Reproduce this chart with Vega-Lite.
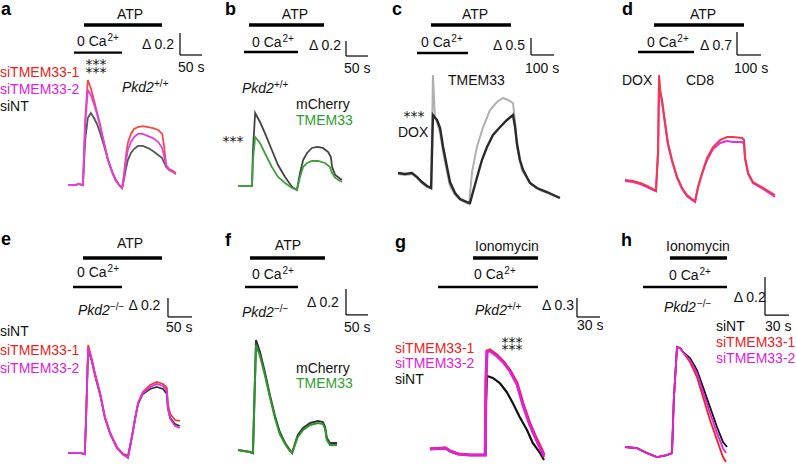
{
"$schema": "https://vega.github.io/schema/vega-lite/v6.json",
"padding": 0,
"spacing": 0,
"bounds": "flush",
"align": "each",
"columns": 4,
"config": {"view": {"stroke": null}, "text": {"font": "Liberation Sans", "fontSize": 14}},
"datasets": {
"traces": [
{"p":"a","s":"siNT","t":0,"v":0},{"p":"a","s":"siNT","t":18,"v":0},{"p":"a","s":"siNT","t":23,"v":0.01},{"p":"a","s":"siNT","t":34,"v":0},{"p":"a","s":"siNT","t":39,"v":0.409},{"p":"a","s":"siNT","t":45,"v":0.609},{"p":"a","s":"siNT","t":52,"v":0.655},{"p":"a","s":"siNT","t":59,"v":0.609},{"p":"a","s":"siNT","t":66,"v":0.555},{"p":"a","s":"siNT","t":73,"v":0.473},{"p":"a","s":"siNT","t":82,"v":0.355},{"p":"a","s":"siNT","t":91,"v":0.227},{"p":"a","s":"siNT","t":100,"v":0.127},{"p":"a","s":"siNT","t":109,"v":0.045},{"p":"a","s":"siNT","t":118,"v":-0.009},{"p":"a","s":"siNT","t":123,"v":-0.027},{"p":"a","s":"siNT","t":127,"v":0.045},{"p":"a","s":"siNT","t":132,"v":0.155},{"p":"a","s":"siNT","t":136,"v":0.227},{"p":"a","s":"siNT","t":143,"v":0.291},{"p":"a","s":"siNT","t":150,"v":0.327},{"p":"a","s":"siNT","t":159,"v":0.355},{"p":"a","s":"siNT","t":170,"v":0.355},{"p":"a","s":"siNT","t":182,"v":0.336},{"p":"a","s":"siNT","t":193,"v":0.309},{"p":"a","s":"siNT","t":205,"v":0.273},{"p":"a","s":"siNT","t":214,"v":0.245},{"p":"a","s":"siNT","t":218,"v":0.209},{"p":"a","s":"siNT","t":223,"v":0.164},{"p":"a","s":"siNT","t":230,"v":0.136},{"p":"a","s":"siNT","t":239,"v":0.118},{"p":"a","s":"siNT","t":245,"v":0.1},
{"p":"a","s":"siTMEM33-1","t":0,"v":0},{"p":"a","s":"siTMEM33-1","t":18,"v":0},{"p":"a","s":"siTMEM33-1","t":23,"v":0.01},{"p":"a","s":"siTMEM33-1","t":34,"v":0},{"p":"a","s":"siTMEM33-1","t":39,"v":0.59},{"p":"a","s":"siTMEM33-1","t":45,"v":0.955},{"p":"a","s":"siTMEM33-1","t":52,"v":0.88},{"p":"a","s":"siTMEM33-1","t":59,"v":0.77},{"p":"a","s":"siTMEM33-1","t":66,"v":0.66},{"p":"a","s":"siTMEM33-1","t":73,"v":0.545},{"p":"a","s":"siTMEM33-1","t":82,"v":0.38},{"p":"a","s":"siTMEM33-1","t":91,"v":0.227},{"p":"a","s":"siTMEM33-1","t":100,"v":0.118},{"p":"a","s":"siTMEM33-1","t":109,"v":0.036},{"p":"a","s":"siTMEM33-1","t":118,"v":-0.009},{"p":"a","s":"siTMEM33-1","t":123,"v":-0.027},{"p":"a","s":"siTMEM33-1","t":127,"v":0.091},{"p":"a","s":"siTMEM33-1","t":132,"v":0.273},{"p":"a","s":"siTMEM33-1","t":136,"v":0.382},{"p":"a","s":"siTMEM33-1","t":143,"v":0.464},{"p":"a","s":"siTMEM33-1","t":150,"v":0.509},{"p":"a","s":"siTMEM33-1","t":159,"v":0.527},{"p":"a","s":"siTMEM33-1","t":170,"v":0.536},{"p":"a","s":"siTMEM33-1","t":182,"v":0.527},{"p":"a","s":"siTMEM33-1","t":193,"v":0.518},{"p":"a","s":"siTMEM33-1","t":205,"v":0.5},{"p":"a","s":"siTMEM33-1","t":214,"v":0.464},{"p":"a","s":"siTMEM33-1","t":218,"v":0.364},{"p":"a","s":"siTMEM33-1","t":223,"v":0.182},{"p":"a","s":"siTMEM33-1","t":230,"v":0.145},{"p":"a","s":"siTMEM33-1","t":239,"v":0.127},{"p":"a","s":"siTMEM33-1","t":245,"v":0.109},
{"p":"a","s":"siTMEM33-2","t":0,"v":0},{"p":"a","s":"siTMEM33-2","t":18,"v":0},{"p":"a","s":"siTMEM33-2","t":23,"v":0.01},{"p":"a","s":"siTMEM33-2","t":34,"v":0},{"p":"a","s":"siTMEM33-2","t":39,"v":0.545},{"p":"a","s":"siTMEM33-2","t":45,"v":0.864},{"p":"a","s":"siTMEM33-2","t":52,"v":0.818},{"p":"a","s":"siTMEM33-2","t":59,"v":0.736},{"p":"a","s":"siTMEM33-2","t":66,"v":0.645},{"p":"a","s":"siTMEM33-2","t":73,"v":0.536},{"p":"a","s":"siTMEM33-2","t":82,"v":0.382},{"p":"a","s":"siTMEM33-2","t":91,"v":0.227},{"p":"a","s":"siTMEM33-2","t":100,"v":0.118},{"p":"a","s":"siTMEM33-2","t":109,"v":0.036},{"p":"a","s":"siTMEM33-2","t":118,"v":-0.009},{"p":"a","s":"siTMEM33-2","t":123,"v":-0.027},{"p":"a","s":"siTMEM33-2","t":127,"v":0.064},{"p":"a","s":"siTMEM33-2","t":132,"v":0.227},{"p":"a","s":"siTMEM33-2","t":136,"v":0.318},{"p":"a","s":"siTMEM33-2","t":143,"v":0.391},{"p":"a","s":"siTMEM33-2","t":150,"v":0.436},{"p":"a","s":"siTMEM33-2","t":159,"v":0.464},{"p":"a","s":"siTMEM33-2","t":170,"v":0.464},{"p":"a","s":"siTMEM33-2","t":182,"v":0.445},{"p":"a","s":"siTMEM33-2","t":193,"v":0.427},{"p":"a","s":"siTMEM33-2","t":205,"v":0.391},{"p":"a","s":"siTMEM33-2","t":214,"v":0.336},{"p":"a","s":"siTMEM33-2","t":218,"v":0.273},{"p":"a","s":"siTMEM33-2","t":223,"v":0.173},{"p":"a","s":"siTMEM33-2","t":230,"v":0.136},{"p":"a","s":"siTMEM33-2","t":239,"v":0.118},{"p":"a","s":"siTMEM33-2","t":245,"v":0.1},
{"p":"b","s":"mCherry","t":0,"v":0},{"p":"b","s":"mCherry","t":32,"v":0},{"p":"b","s":"mCherry","t":34,"v":0.48},{"p":"b","s":"mCherry","t":39,"v":0.973},{"p":"b","s":"mCherry","t":50,"v":0.853},{"p":"b","s":"mCherry","t":61,"v":0.707},{"p":"b","s":"mCherry","t":77,"v":0.48},{"p":"b","s":"mCherry","t":91,"v":0.28},{"p":"b","s":"mCherry","t":107,"v":0.12},{"p":"b","s":"mCherry","t":123,"v":-0.013},{"p":"b","s":"mCherry","t":134,"v":-0.053},{"p":"b","s":"mCherry","t":141,"v":0.173},{"p":"b","s":"mCherry","t":148,"v":0.347},{"p":"b","s":"mCherry","t":157,"v":0.44},{"p":"b","s":"mCherry","t":168,"v":0.507},{"p":"b","s":"mCherry","t":180,"v":0.52},{"p":"b","s":"mCherry","t":193,"v":0.507},{"p":"b","s":"mCherry","t":205,"v":0.453},{"p":"b","s":"mCherry","t":211,"v":0.387},{"p":"b","s":"mCherry","t":214,"v":0.253},{"p":"b","s":"mCherry","t":221,"v":0.147},{"p":"b","s":"mCherry","t":236,"v":0.08},
{"p":"b","s":"TMEM33","t":0,"v":0},{"p":"b","s":"TMEM33","t":32,"v":0},{"p":"b","s":"TMEM33","t":34,"v":0.347},{"p":"b","s":"TMEM33","t":39,"v":0.653},{"p":"b","s":"TMEM33","t":50,"v":0.573},{"p":"b","s":"TMEM33","t":61,"v":0.44},{"p":"b","s":"TMEM33","t":77,"v":0.253},{"p":"b","s":"TMEM33","t":91,"v":0.12},{"p":"b","s":"TMEM33","t":107,"v":0.04},{"p":"b","s":"TMEM33","t":123,"v":-0.027},{"p":"b","s":"TMEM33","t":134,"v":-0.053},{"p":"b","s":"TMEM33","t":141,"v":0.12},{"p":"b","s":"TMEM33","t":148,"v":0.253},{"p":"b","s":"TMEM33","t":157,"v":0.307},{"p":"b","s":"TMEM33","t":168,"v":0.333},{"p":"b","s":"TMEM33","t":182,"v":0.333},{"p":"b","s":"TMEM33","t":198,"v":0.307},{"p":"b","s":"TMEM33","t":209,"v":0.253},{"p":"b","s":"TMEM33","t":214,"v":0.173},{"p":"b","s":"TMEM33","t":221,"v":0.107},{"p":"b","s":"TMEM33","t":236,"v":0.053},
{"p":"c","s":"control","t":0,"v":0},{"p":"c","s":"control","t":30,"v":-0.029},{"p":"c","s":"control","t":61,"v":0},{"p":"c","s":"control","t":83,"v":-0.118},{"p":"c","s":"control","t":104,"v":-0.265},{"p":"c","s":"control","t":126,"v":-0.382},{"p":"c","s":"control","t":144,"v":-0.441},{"p":"c","s":"control","t":152,"v":1.706},{"p":"c","s":"control","t":170,"v":1.559},{"p":"c","s":"control","t":183,"v":1.324},{"p":"c","s":"control","t":196,"v":0.765},{"p":"c","s":"control","t":213,"v":0.176},{"p":"c","s":"control","t":226,"v":-0.265},{"p":"c","s":"control","t":248,"v":-0.588},{"p":"c","s":"control","t":270,"v":-0.765},{"p":"c","s":"control","t":300,"v":-0.853},{"p":"c","s":"control","t":313,"v":-0.882},{"p":"c","s":"control","t":326,"v":-0.559},{"p":"c","s":"control","t":344,"v":-0.118},{"p":"c","s":"control","t":365,"v":0.382},{"p":"c","s":"control","t":387,"v":0.765},{"p":"c","s":"control","t":413,"v":1.118},{"p":"c","s":"control","t":444,"v":1.353},{"p":"c","s":"control","t":474,"v":1.559},{"p":"c","s":"control","t":500,"v":1.706},{"p":"c","s":"control","t":509,"v":1.353},{"p":"c","s":"control","t":517,"v":0.882},{"p":"c","s":"control","t":530,"v":0.382},{"p":"c","s":"control","t":544,"v":0.088},{"p":"c","s":"control","t":574,"v":-0.294},{"p":"c","s":"control","t":604,"v":-0.441},{"p":"c","s":"control","t":648,"v":-0.559},{"p":"c","s":"control","t":704,"v":-0.735},
{"p":"c","s":"TMEM33","t":0,"v":-0.029},{"p":"c","s":"TMEM33","t":30,"v":-0.059},{"p":"c","s":"TMEM33","t":61,"v":-0.029},{"p":"c","s":"TMEM33","t":83,"v":-0.147},{"p":"c","s":"TMEM33","t":104,"v":-0.294},{"p":"c","s":"TMEM33","t":126,"v":-0.412},{"p":"c","s":"TMEM33","t":144,"v":-0.441},{"p":"c","s":"TMEM33","t":152,"v":2.882},{"p":"c","s":"TMEM33","t":161,"v":1.618},{"p":"c","s":"TMEM33","t":170,"v":1.471},{"p":"c","s":"TMEM33","t":183,"v":1.176},{"p":"c","s":"TMEM33","t":196,"v":0.618},{"p":"c","s":"TMEM33","t":213,"v":0.029},{"p":"c","s":"TMEM33","t":226,"v":-0.382},{"p":"c","s":"TMEM33","t":248,"v":-0.647},{"p":"c","s":"TMEM33","t":270,"v":-0.794},{"p":"c","s":"TMEM33","t":300,"v":-0.882},{"p":"c","s":"TMEM33","t":309,"v":-0.912},{"p":"c","s":"TMEM33","t":322,"v":0.029},{"p":"c","s":"TMEM33","t":343,"v":0.765},{"p":"c","s":"TMEM33","t":370,"v":1.353},{"p":"c","s":"TMEM33","t":400,"v":1.853},{"p":"c","s":"TMEM33","t":430,"v":2.088},{"p":"c","s":"TMEM33","t":457,"v":2.206},{"p":"c","s":"TMEM33","t":478,"v":2.147},{"p":"c","s":"TMEM33","t":500,"v":2.059},{"p":"c","s":"TMEM33","t":509,"v":1.5},{"p":"c","s":"TMEM33","t":517,"v":0.765},{"p":"c","s":"TMEM33","t":539,"v":0.088},{"p":"c","s":"TMEM33","t":574,"v":-0.294},{"p":"c","s":"TMEM33","t":617,"v":-0.5},{"p":"c","s":"TMEM33","t":661,"v":-0.618},{"p":"c","s":"TMEM33","t":704,"v":-0.735},
{"p":"d","s":"CD8 control","t":0,"v":0},{"p":"d","s":"CD8 control","t":33,"v":-0.03},{"p":"d","s":"CD8 control","t":63,"v":-0.091},{"p":"d","s":"CD8 control","t":92,"v":-0.183},{"p":"d","s":"CD8 control","t":117,"v":-0.274},{"p":"d","s":"CD8 control","t":129,"v":-0.335},{"p":"d","s":"CD8 control","t":138,"v":0.913},{"p":"d","s":"CD8 control","t":142,"v":3.196},{"p":"d","s":"CD8 control","t":146,"v":2.739},{"p":"d","s":"CD8 control","t":154,"v":2.435},{"p":"d","s":"CD8 control","t":167,"v":1.735},{"p":"d","s":"CD8 control","t":179,"v":1.126},{"p":"d","s":"CD8 control","t":196,"v":0.609},{"p":"d","s":"CD8 control","t":217,"v":0.091},{"p":"d","s":"CD8 control","t":238,"v":-0.243},{"p":"d","s":"CD8 control","t":258,"v":-0.457},{"p":"d","s":"CD8 control","t":279,"v":-0.578},{"p":"d","s":"CD8 control","t":292,"v":-0.639},{"p":"d","s":"CD8 control","t":304,"v":-0.213},{"p":"d","s":"CD8 control","t":321,"v":0.213},{"p":"d","s":"CD8 control","t":342,"v":0.67},{"p":"d","s":"CD8 control","t":367,"v":1.004},{"p":"d","s":"CD8 control","t":396,"v":1.217},{"p":"d","s":"CD8 control","t":425,"v":1.309},{"p":"d","s":"CD8 control","t":450,"v":1.309},{"p":"d","s":"CD8 control","t":488,"v":1.278},{"p":"d","s":"CD8 control","t":496,"v":1.217},{"p":"d","s":"CD8 control","t":500,"v":0.7},{"p":"d","s":"CD8 control","t":513,"v":0.213},{"p":"d","s":"CD8 control","t":533,"v":-0.061},{"p":"d","s":"CD8 control","t":575,"v":-0.243},{"p":"d","s":"CD8 control","t":625,"v":-0.457},
{"p":"d","s":"CD8 DOX","t":0,"v":-0.03},{"p":"d","s":"CD8 DOX","t":33,"v":-0.06},{"p":"d","s":"CD8 DOX","t":63,"v":-0.122},{"p":"d","s":"CD8 DOX","t":92,"v":-0.213},{"p":"d","s":"CD8 DOX","t":117,"v":-0.304},{"p":"d","s":"CD8 DOX","t":129,"v":-0.335},{"p":"d","s":"CD8 DOX","t":138,"v":0.85},{"p":"d","s":"CD8 DOX","t":142,"v":3.1},{"p":"d","s":"CD8 DOX","t":146,"v":2.7},{"p":"d","s":"CD8 DOX","t":154,"v":2.4},{"p":"d","s":"CD8 DOX","t":167,"v":1.7},{"p":"d","s":"CD8 DOX","t":179,"v":1.08},{"p":"d","s":"CD8 DOX","t":196,"v":0.57},{"p":"d","s":"CD8 DOX","t":217,"v":0.06},{"p":"d","s":"CD8 DOX","t":238,"v":-0.274},{"p":"d","s":"CD8 DOX","t":258,"v":-0.487},{"p":"d","s":"CD8 DOX","t":279,"v":-0.609},{"p":"d","s":"CD8 DOX","t":292,"v":-0.67},{"p":"d","s":"CD8 DOX","t":304,"v":-0.243},{"p":"d","s":"CD8 DOX","t":321,"v":0.183},{"p":"d","s":"CD8 DOX","t":342,"v":0.609},{"p":"d","s":"CD8 DOX","t":367,"v":0.943},{"p":"d","s":"CD8 DOX","t":396,"v":1.126},{"p":"d","s":"CD8 DOX","t":425,"v":1.187},{"p":"d","s":"CD8 DOX","t":450,"v":1.157},{"p":"d","s":"CD8 DOX","t":488,"v":1.157},{"p":"d","s":"CD8 DOX","t":496,"v":1.1},{"p":"d","s":"CD8 DOX","t":500,"v":0.64},{"p":"d","s":"CD8 DOX","t":513,"v":0.183},{"p":"d","s":"CD8 DOX","t":533,"v":-0.091},{"p":"d","s":"CD8 DOX","t":575,"v":-0.274},{"p":"d","s":"CD8 DOX","t":625,"v":-0.517},
{"p":"e","s":"siNT","t":0,"v":0},{"p":"e","s":"siNT","t":25,"v":0},{"p":"e","s":"siNT","t":35,"v":-0.011},{"p":"e","s":"siNT","t":37.5,"v":0.347},{"p":"e","s":"siNT","t":42,"v":1.095},{"p":"e","s":"siNT","t":50,"v":0.958},{"p":"e","s":"siNT","t":56,"v":0.821},{"p":"e","s":"siNT","t":67,"v":0.611},{"p":"e","s":"siNT","t":77,"v":0.368},{"p":"e","s":"siNT","t":88,"v":0.2},{"p":"e","s":"siNT","t":102,"v":0.053},{"p":"e","s":"siNT","t":115,"v":-0.011},{"p":"e","s":"siNT","t":125,"v":-0.032},{"p":"e","s":"siNT","t":133,"v":0.168},{"p":"e","s":"siNT","t":140,"v":0.368},{"p":"e","s":"siNT","t":146,"v":0.516},{"p":"e","s":"siNT","t":156,"v":0.621},{"p":"e","s":"siNT","t":171,"v":0.674},{"p":"e","s":"siNT","t":185,"v":0.695},{"p":"e","s":"siNT","t":198,"v":0.674},{"p":"e","s":"siNT","t":206,"v":0.621},{"p":"e","s":"siNT","t":208,"v":0.474},{"p":"e","s":"siNT","t":213,"v":0.368},{"p":"e","s":"siNT","t":223,"v":0.305},{"p":"e","s":"siNT","t":233,"v":0.284},
{"p":"e","s":"siTMEM33-1","t":0,"v":0},{"p":"e","s":"siTMEM33-1","t":25,"v":0},{"p":"e","s":"siTMEM33-1","t":35,"v":-0.011},{"p":"e","s":"siTMEM33-1","t":37.5,"v":0.347},{"p":"e","s":"siTMEM33-1","t":42,"v":1.137},{"p":"e","s":"siTMEM33-1","t":50,"v":0.979},{"p":"e","s":"siTMEM33-1","t":56,"v":0.842},{"p":"e","s":"siTMEM33-1","t":67,"v":0.632},{"p":"e","s":"siTMEM33-1","t":77,"v":0.379},{"p":"e","s":"siTMEM33-1","t":88,"v":0.211},{"p":"e","s":"siTMEM33-1","t":102,"v":0.063},{"p":"e","s":"siTMEM33-1","t":115,"v":-0.011},{"p":"e","s":"siTMEM33-1","t":125,"v":-0.053},{"p":"e","s":"siTMEM33-1","t":133,"v":0.158},{"p":"e","s":"siTMEM33-1","t":140,"v":0.368},{"p":"e","s":"siTMEM33-1","t":146,"v":0.526},{"p":"e","s":"siTMEM33-1","t":156,"v":0.642},{"p":"e","s":"siTMEM33-1","t":171,"v":0.716},{"p":"e","s":"siTMEM33-1","t":185,"v":0.747},{"p":"e","s":"siTMEM33-1","t":198,"v":0.726},{"p":"e","s":"siTMEM33-1","t":206,"v":0.684},{"p":"e","s":"siTMEM33-1","t":208,"v":0.516},{"p":"e","s":"siTMEM33-1","t":213,"v":0.411},{"p":"e","s":"siTMEM33-1","t":223,"v":0.347},{"p":"e","s":"siTMEM33-1","t":233,"v":0.337},
{"p":"e","s":"siTMEM33-2","t":0,"v":0},{"p":"e","s":"siTMEM33-2","t":25,"v":0},{"p":"e","s":"siTMEM33-2","t":35,"v":-0.011},{"p":"e","s":"siTMEM33-2","t":37.5,"v":0.347},{"p":"e","s":"siTMEM33-2","t":42,"v":1.105},{"p":"e","s":"siTMEM33-2","t":50,"v":0.968},{"p":"e","s":"siTMEM33-2","t":56,"v":0.832},{"p":"e","s":"siTMEM33-2","t":67,"v":0.621},{"p":"e","s":"siTMEM33-2","t":77,"v":0.368},{"p":"e","s":"siTMEM33-2","t":88,"v":0.2},{"p":"e","s":"siTMEM33-2","t":102,"v":0.053},{"p":"e","s":"siTMEM33-2","t":115,"v":-0.021},{"p":"e","s":"siTMEM33-2","t":125,"v":-0.042},{"p":"e","s":"siTMEM33-2","t":133,"v":0.168},{"p":"e","s":"siTMEM33-2","t":140,"v":0.368},{"p":"e","s":"siTMEM33-2","t":146,"v":0.526},{"p":"e","s":"siTMEM33-2","t":156,"v":0.632},{"p":"e","s":"siTMEM33-2","t":171,"v":0.695},{"p":"e","s":"siTMEM33-2","t":185,"v":0.726},{"p":"e","s":"siTMEM33-2","t":198,"v":0.705},{"p":"e","s":"siTMEM33-2","t":206,"v":0.653},{"p":"e","s":"siTMEM33-2","t":208,"v":0.474},{"p":"e","s":"siTMEM33-2","t":213,"v":0.358},{"p":"e","s":"siTMEM33-2","t":223,"v":0.284},{"p":"e","s":"siTMEM33-2","t":233,"v":0.263},
{"p":"f","s":"mCherry","t":0,"v":0.023},{"p":"f","s":"mCherry","t":27,"v":0.008},{"p":"f","s":"mCherry","t":34,"v":0},{"p":"f","s":"mCherry","t":36,"v":0.254},{"p":"f","s":"mCherry","t":41,"v":0.869},{"p":"f","s":"mCherry","t":50,"v":0.777},{"p":"f","s":"mCherry","t":61,"v":0.623},{"p":"f","s":"mCherry","t":73,"v":0.438},{"p":"f","s":"mCherry","t":84,"v":0.285},{"p":"f","s":"mCherry","t":95,"v":0.162},{"p":"f","s":"mCherry","t":107,"v":0.077},{"p":"f","s":"mCherry","t":118,"v":0.023},{"p":"f","s":"mCherry","t":123,"v":0},{"p":"f","s":"mCherry","t":130,"v":0.077},{"p":"f","s":"mCherry","t":136,"v":0.138},{"p":"f","s":"mCherry","t":148,"v":0.192},{"p":"f","s":"mCherry","t":164,"v":0.231},{"p":"f","s":"mCherry","t":182,"v":0.246},{"p":"f","s":"mCherry","t":193,"v":0.238},{"p":"f","s":"mCherry","t":198,"v":0.2},{"p":"f","s":"mCherry","t":202,"v":0.115},{"p":"f","s":"mCherry","t":209,"v":0.077},{"p":"f","s":"mCherry","t":225,"v":0.077},
{"p":"f","s":"TMEM33","t":0,"v":0.023},{"p":"f","s":"TMEM33","t":27,"v":0.008},{"p":"f","s":"TMEM33","t":34,"v":0},{"p":"f","s":"TMEM33","t":36,"v":0.238},{"p":"f","s":"TMEM33","t":41,"v":0.831},{"p":"f","s":"TMEM33","t":50,"v":0.746},{"p":"f","s":"TMEM33","t":61,"v":0.6},{"p":"f","s":"TMEM33","t":73,"v":0.423},{"p":"f","s":"TMEM33","t":84,"v":0.269},{"p":"f","s":"TMEM33","t":95,"v":0.146},{"p":"f","s":"TMEM33","t":107,"v":0.069},{"p":"f","s":"TMEM33","t":118,"v":0.015},{"p":"f","s":"TMEM33","t":123,"v":0},{"p":"f","s":"TMEM33","t":130,"v":0.069},{"p":"f","s":"TMEM33","t":136,"v":0.123},{"p":"f","s":"TMEM33","t":148,"v":0.177},{"p":"f","s":"TMEM33","t":164,"v":0.215},{"p":"f","s":"TMEM33","t":182,"v":0.231},{"p":"f","s":"TMEM33","t":193,"v":0.223},{"p":"f","s":"TMEM33","t":198,"v":0.185},{"p":"f","s":"TMEM33","t":202,"v":0.1},{"p":"f","s":"TMEM33","t":209,"v":0.062},{"p":"f","s":"TMEM33","t":225,"v":0.062},
{"p":"g","s":"siNT","t":0,"v":0.095},{"p":"g","s":"siNT","t":20,"v":0.111},{"p":"g","s":"siNT","t":26,"v":0.063},{"p":"g","s":"siNT","t":36.5,"v":0.016},{"p":"g","s":"siNT","t":52,"v":0},{"p":"g","s":"siNT","t":68,"v":0},{"p":"g","s":"siNT","t":72,"v":0},{"p":"g","s":"siNT","t":73,"v":0.868},{"p":"g","s":"siNT","t":74.3,"v":1.247},{"p":"g","s":"siNT","t":82,"v":1.216},{"p":"g","s":"siNT","t":91,"v":1.137},{"p":"g","s":"siNT","t":100,"v":0.995},{"p":"g","s":"siNT","t":108,"v":0.821},{"p":"g","s":"siNT","t":117,"v":0.6},{"p":"g","s":"siNT","t":126.5,"v":0.395},{"p":"g","s":"siNT","t":134,"v":0.189},{"p":"g","s":"siNT","t":143.5,"v":0.032},{"p":"g","s":"siNT","t":148.7,"v":-0.079},
{"p":"g","s":"siTMEM33-1","t":0,"v":0.095},{"p":"g","s":"siTMEM33-1","t":20,"v":0.111},{"p":"g","s":"siTMEM33-1","t":26,"v":0.063},{"p":"g","s":"siTMEM33-1","t":36.5,"v":0.016},{"p":"g","s":"siTMEM33-1","t":52,"v":0},{"p":"g","s":"siTMEM33-1","t":68,"v":0},{"p":"g","s":"siTMEM33-1","t":72,"v":0},{"p":"g","s":"siTMEM33-1","t":73,"v":1.184},{"p":"g","s":"siTMEM33-1","t":74.3,"v":1.642},{"p":"g","s":"siTMEM33-1","t":78,"v":1.658},{"p":"g","s":"siTMEM33-1","t":87,"v":1.579},{"p":"g","s":"siTMEM33-1","t":95,"v":1.484},{"p":"g","s":"siTMEM33-1","t":104,"v":1.342},{"p":"g","s":"siTMEM33-1","t":113.5,"v":1.137},{"p":"g","s":"siTMEM33-1","t":121,"v":0.821},{"p":"g","s":"siTMEM33-1","t":130,"v":0.505},{"p":"g","s":"siTMEM33-1","t":139.6,"v":0.237},{"p":"g","s":"siTMEM33-1","t":146,"v":0.079},{"p":"g","s":"siTMEM33-1","t":148.7,"v":0},
{"p":"g","s":"siTMEM33-2","t":0,"v":0.095},{"p":"g","s":"siTMEM33-2","t":20,"v":0.111},{"p":"g","s":"siTMEM33-2","t":26,"v":0.063},{"p":"g","s":"siTMEM33-2","t":36.5,"v":0.016},{"p":"g","s":"siTMEM33-2","t":52,"v":0},{"p":"g","s":"siTMEM33-2","t":68,"v":0},{"p":"g","s":"siTMEM33-2","t":72,"v":0},{"p":"g","s":"siTMEM33-2","t":73,"v":1.184},{"p":"g","s":"siTMEM33-2","t":74.3,"v":1.626},{"p":"g","s":"siTMEM33-2","t":78,"v":1.642},{"p":"g","s":"siTMEM33-2","t":87,"v":1.563},{"p":"g","s":"siTMEM33-2","t":95,"v":1.468},{"p":"g","s":"siTMEM33-2","t":104,"v":1.326},{"p":"g","s":"siTMEM33-2","t":113.5,"v":1.105},{"p":"g","s":"siTMEM33-2","t":121,"v":0.789},{"p":"g","s":"siTMEM33-2","t":130,"v":0.474},{"p":"g","s":"siTMEM33-2","t":139.6,"v":0.205},{"p":"g","s":"siTMEM33-2","t":146,"v":0.047},{"p":"g","s":"siTMEM33-2","t":148.7,"v":-0.032},
{"p":"h","s":"siNT","t":0,"v":0.032},{"p":"h","s":"siNT","t":15,"v":0.026},{"p":"h","s":"siNT","t":27.5,"v":0},{"p":"h","s":"siNT","t":40,"v":-0.021},{"p":"h","s":"siNT","t":52.5,"v":-0.011},{"p":"h","s":"siNT","t":58.75,"v":0},{"p":"h","s":"siNT","t":61,"v":0.279},{"p":"h","s":"siNT","t":65,"v":0.558},{"p":"h","s":"siNT","t":68.75,"v":0.553},{"p":"h","s":"siNT","t":72.5,"v":0.532},{"p":"h","s":"siNT","t":81.25,"v":0.5},{"p":"h","s":"siNT","t":90,"v":0.437},{"p":"h","s":"siNT","t":97.5,"v":0.347},{"p":"h","s":"siNT","t":106.25,"v":0.242},{"p":"h","s":"siNT","t":115,"v":0.137},{"p":"h","s":"siNT","t":122.5,"v":0.058},{"p":"h","s":"siNT","t":127.5,"v":0.032},
{"p":"h","s":"siTMEM33-1","t":0,"v":0.032},{"p":"h","s":"siTMEM33-1","t":15,"v":0.026},{"p":"h","s":"siTMEM33-1","t":27.5,"v":0},{"p":"h","s":"siTMEM33-1","t":40,"v":-0.021},{"p":"h","s":"siTMEM33-1","t":52.5,"v":-0.011},{"p":"h","s":"siTMEM33-1","t":58.75,"v":0},{"p":"h","s":"siTMEM33-1","t":61,"v":0.279},{"p":"h","s":"siTMEM33-1","t":65,"v":0.558},{"p":"h","s":"siTMEM33-1","t":68.75,"v":0.553},{"p":"h","s":"siTMEM33-1","t":72.5,"v":0.532},{"p":"h","s":"siTMEM33-1","t":81.25,"v":0.479},{"p":"h","s":"siTMEM33-1","t":90,"v":0.4},{"p":"h","s":"siTMEM33-1","t":97.5,"v":0.295},{"p":"h","s":"siTMEM33-1","t":106.25,"v":0.174},{"p":"h","s":"siTMEM33-1","t":115,"v":0.068},{"p":"h","s":"siTMEM33-1","t":122.5,"v":-0.021},{"p":"h","s":"siTMEM33-1","t":126.25,"v":-0.047},
{"p":"h","s":"siTMEM33-2","t":0,"v":0.032},{"p":"h","s":"siTMEM33-2","t":15,"v":0.026},{"p":"h","s":"siTMEM33-2","t":27.5,"v":0},{"p":"h","s":"siTMEM33-2","t":40,"v":-0.021},{"p":"h","s":"siTMEM33-2","t":52.5,"v":-0.011},{"p":"h","s":"siTMEM33-2","t":58.75,"v":0},{"p":"h","s":"siTMEM33-2","t":61,"v":0.279},{"p":"h","s":"siTMEM33-2","t":65,"v":0.558},{"p":"h","s":"siTMEM33-2","t":68.75,"v":0.553},{"p":"h","s":"siTMEM33-2","t":72.5,"v":0.532},{"p":"h","s":"siTMEM33-2","t":81.25,"v":0.489},{"p":"h","s":"siTMEM33-2","t":90,"v":0.421},{"p":"h","s":"siTMEM33-2","t":97.5,"v":0.321},{"p":"h","s":"siTMEM33-2","t":106.25,"v":0.211},{"p":"h","s":"siTMEM33-2","t":115,"v":0.105},{"p":"h","s":"siTMEM33-2","t":122.5,"v":0.026},{"p":"h","s":"siTMEM33-2","t":126.25,"v":0}
],
"bars": [
{"p":"a","k":"thick","t":36.4,"t2":213.6,"v":1.455,"v2":1.455},{"p":"a","k":"thin","t":13.6,"t2":122.7,"v":1.203,"v2":1.203},{"p":"a","k":"scale","t":254.5,"t2":254.5,"v":1.382,"v2":1.182},{"p":"a","k":"scale","t":254.5,"t2":304.5,"v":1.182,"v2":1.182},
{"p":"b","k":"thick","t":25,"t2":195.5,"v":2.147,"v2":2.147},{"p":"b","k":"thin","t":13.6,"t2":136.4,"v":1.787,"v2":1.787},{"p":"b","k":"scale","t":245.5,"t2":245.5,"v":1.933,"v2":1.733},{"p":"b","k":"scale","t":245.5,"t2":295.5,"v":1.733,"v2":1.733},
{"p":"c","k":"thick","t":143.5,"t2":491.3,"v":4.353,"v2":4.353},{"p":"c","k":"thin","t":82.6,"t2":304.3,"v":3.529,"v2":3.529},{"p":"c","k":"scale","t":578.3,"t2":578.3,"v":3.971,"v2":3.471},{"p":"c","k":"scale","t":578.3,"t2":678.3,"v":3.471,"v2":3.471},
{"p":"d","k":"thick","t":120.8,"t2":495.8,"v":4.717,"v2":4.717},{"p":"d","k":"thin","t":54.2,"t2":287.5,"v":3.896,"v2":3.896},{"p":"d","k":"scale","t":466.7,"t2":466.7,"v":4.504,"v2":3.804},{"p":"d","k":"scale","t":466.7,"t2":566.7,"v":3.804,"v2":3.804},
{"p":"e","k":"thick","t":31.2,"t2":195.8,"v":2.053,"v2":2.053},{"p":"e","k":"thin","t":10.4,"t2":112.5,"v":1.747,"v2":1.747},{"p":"e","k":"scale","t":208.3,"t2":208.3,"v":1.632,"v2":1.432},{"p":"e","k":"scale","t":208.3,"t2":258.3,"v":1.432,"v2":1.432},
{"p":"f","k":"thick","t":27.3,"t2":197.7,"v":1.5,"v2":1.5},{"p":"f","k":"thin","t":15.9,"t2":136.4,"v":1.277,"v2":1.277},{"p":"f","k":"scale","t":245.5,"t2":245.5,"v":1.262,"v2":1.062},{"p":"f","k":"scale","t":245.5,"t2":295.5,"v":1.062,"v2":1.062},
{"p":"g","k":"thick","t":56.1,"t2":140.9,"v":3.111,"v2":3.111},{"p":"g","k":"thin","t":10.4,"t2":140.9,"v":2.653,"v2":2.653},{"p":"g","k":"scale","t":191.7,"t2":191.7,"v":2.479,"v2":2.179},{"p":"g","k":"scale","t":191.7,"t2":221.7,"v":2.179,"v2":2.179},
{"p":"h","k":"thick","t":56.25,"t2":127.5,"v":1.026,"v2":1.026},{"p":"h","k":"thin","t":22.5,"t2":127.5,"v":0.874,"v2":0.874},{"p":"h","k":"scale","t":175,"t2":175,"v":0.926,"v2":0.726},{"p":"h","k":"scale","t":175,"t2":205,"v":0.726,"v2":0.726}
],
"labels": [
{"p":"a","k":"letter","s":"none","t":-152.3,"v":1.545,"txt":"a"},{"p":"a","k":"ctr","s":"none","t":140.9,"v":1.509,"txt":"ATP"},{"p":"a","k":"txt","s":"none","t":20.5,"v":1.264,"txt":"0 Ca"},{"p":"a","k":"sup","s":"none","t":89.5,"v":1.264,"txt":"2+"},{"p":"a","k":"txt","s":"none","t":168.2,"v":1.236,"txt":"Δ 0.2"},{"p":"a","k":"txt","s":"none","t":250,"v":1.027,"txt":"50 s"},{"p":"a","k":"star","s":"none","t":63.6,"v":1.055,"txt":"***"},{"p":"a","k":"star","s":"none","t":63.6,"v":0.982,"txt":"***"},{"p":"a","k":"txt","s":"siTMEM33-1","t":-154.5,"v":0.982,"txt":"siTMEM33-1"},{"p":"a","k":"txt","s":"siTMEM33-2","t":-154.5,"v":0.827,"txt":"siTMEM33-2"},{"p":"a","k":"txt","s":"siNT","t":-154.5,"v":0.673,"txt":"siNT"},{"p":"a","k":"ital","s":"none","t":122.7,"v":0.845,"txt":"Pkd2"},{"p":"a","k":"sup","s":"none","t":195.5,"v":0.845,"txt":"+/+"},
{"p":"b","k":"letter","s":"none","t":-29.5,"v":2.28,"txt":"b"},{"p":"b","k":"ctr","s":"none","t":129.5,"v":2.227,"txt":"ATP"},{"p":"b","k":"txt","s":"none","t":31.8,"v":1.853,"txt":"0 Ca"},{"p":"b","k":"sup","s":"none","t":101,"v":1.853,"txt":"2+"},{"p":"b","k":"txt","s":"none","t":161.4,"v":1.813,"txt":"Δ 0.2"},{"p":"b","k":"txt","s":"none","t":240.9,"v":1.507,"txt":"50 s"},{"p":"b","k":"ital","s":"none","t":9.1,"v":1.24,"txt":"Pkd2"},{"p":"b","k":"sup","s":"none","t":81.8,"v":1.24,"txt":"+/+"},{"p":"b","k":"txt","s":"mCherry","t":131.8,"v":1.027,"txt":"mCherry"},{"p":"b","k":"txt","s":"TMEM33","t":131.8,"v":0.813,"txt":"TMEM33"},{"p":"b","k":"star","s":"none","t":-11.4,"v":0.533,"txt":"***"},
{"p":"c","k":"letter","s":"none","t":-26.1,"v":4.647,"txt":"c"},{"p":"c","k":"ctr","s":"none","t":334.8,"v":4.529,"txt":"ATP"},{"p":"c","k":"txt","s":"none","t":100,"v":3.706,"txt":"0 Ca"},{"p":"c","k":"sup","s":"none","t":232,"v":3.706,"txt":"2+"},{"p":"c","k":"txt","s":"none","t":413,"v":3.618,"txt":"Δ 0.5"},{"p":"c","k":"txt","s":"none","t":552.2,"v":2.941,"txt":"100 s"},{"p":"c","k":"txt","s":"none","t":217.4,"v":2.588,"txt":"TMEM33"},{"p":"c","k":"star","s":"none","t":69.6,"v":1.529,"txt":"***"},{"p":"c","k":"txt","s":"none","t":0,"v":1.059,"txt":"DOX"},
{"p":"d","k":"letter","s":"none","t":-12.5,"v":5.022,"txt":"d"},{"p":"d","k":"ctr","s":"none","t":325,"v":4.9,"txt":"ATP"},{"p":"d","k":"txt","s":"none","t":91.7,"v":4.048,"txt":"0 Ca"},{"p":"d","k":"sup","s":"none","t":218,"v":4.048,"txt":"2+"},{"p":"d","k":"txt","s":"none","t":312.5,"v":3.957,"txt":"Δ 0.7"},{"p":"d","k":"txt","s":"none","t":454.2,"v":3.257,"txt":"100 s"},{"p":"d","k":"txt","s":"none","t":-12.5,"v":2.891,"txt":"DOX"},{"p":"d","k":"txt","s":"none","t":254.2,"v":2.891,"txt":"CD8"},
{"p":"e","k":"letter","s":"none","t":-139.6,"v":2.189,"txt":"e"},{"p":"e","k":"ctr","s":"none","t":129.2,"v":2.158,"txt":"ATP"},{"p":"e","k":"txt","s":"none","t":18.75,"v":1.853,"txt":"0 Ca"},{"p":"e","k":"sup","s":"none","t":82.5,"v":1.853,"txt":"2+"},{"p":"e","k":"ital","s":"none","t":20.8,"v":1.453,"txt":"Pkd2"},{"p":"e","k":"sup","s":"none","t":87.5,"v":1.453,"txt":"−/−"},{"p":"e","k":"txt","s":"none","t":126,"v":1.505,"txt":"Δ 0.2"},{"p":"e","k":"txt","s":"none","t":204.2,"v":1.274,"txt":"50 s"},{"p":"e","k":"txt","s":"siNT","t":-141.7,"v":1.232,"txt":"siNT"},{"p":"e","k":"txt","s":"siTMEM33-1","t":-141.7,"v":1.032,"txt":"siTMEM33-1"},{"p":"e","k":"txt","s":"siTMEM33-2","t":-141.7,"v":0.842,"txt":"siTMEM33-2"},
{"p":"f","k":"letter","s":"none","t":-29.5,"v":1.592,"txt":"f"},{"p":"f","k":"ctr","s":"none","t":113.6,"v":1.562,"txt":"ATP"},{"p":"f","k":"txt","s":"none","t":31.8,"v":1.338,"txt":"0 Ca"},{"p":"f","k":"sup","s":"none","t":101,"v":1.338,"txt":"2+"},{"p":"f","k":"ital","s":"none","t":9.1,"v":1.046,"txt":"Pkd2"},{"p":"f","k":"sup","s":"none","t":81.8,"v":1.046,"txt":"−/−"},{"p":"f","k":"txt","s":"none","t":156.8,"v":1.123,"txt":"Δ 0.2"},{"p":"f","k":"txt","s":"none","t":240.9,"v":0.931,"txt":"50 s"},{"p":"f","k":"txt","s":"mCherry","t":131.8,"v":0.615,"txt":"mCherry"},{"p":"f","k":"txt","s":"TMEM33","t":131.8,"v":0.5,"txt":"TMEM33"},
{"p":"g","k":"letter","s":"none","t":-45.7,"v":3.268,"txt":"g"},{"p":"g","k":"ctr","s":"none","t":100.4,"v":3.221,"txt":"Ionomycin"},{"p":"g","k":"txt","s":"none","t":57.4,"v":2.779,"txt":"0 Ca"},{"p":"g","k":"sup","s":"none","t":97,"v":2.779,"txt":"2+"},{"p":"g","k":"ital","s":"none","t":58.7,"v":2.211,"txt":"Pkd2"},{"p":"g","k":"sup","s":"none","t":100.4,"v":2.211,"txt":"+/+"},{"p":"g","k":"txt","s":"none","t":146.1,"v":2.289,"txt":"Δ 0.3"},{"p":"g","k":"txt","s":"none","t":191.7,"v":1.974,"txt":"30 s"},{"p":"g","k":"txt","s":"siTMEM33-1","t":-45.7,"v":1.611,"txt":"siTMEM33-1"},{"p":"g","k":"txt","s":"siTMEM33-2","t":-45.7,"v":1.374,"txt":"siTMEM33-2"},{"p":"g","k":"txt","s":"siNT","t":-45.7,"v":1.121,"txt":"siNT"},{"p":"g","k":"star","s":"none","t":107,"v":1.705,"txt":"***"},{"p":"g","k":"star","s":"none","t":107,"v":1.595,"txt":"***"},
{"p":"h","k":"letter","s":"none","t":-5,"v":1.089,"txt":"h"},{"p":"h","k":"ctr","s":"none","t":91.25,"v":1.063,"txt":"Ionomycin"},{"p":"h","k":"txt","s":"none","t":55,"v":0.911,"txt":"0 Ca"},{"p":"h","k":"sup","s":"none","t":93,"v":0.911,"txt":"2+"},{"p":"h","k":"ital","s":"none","t":48.75,"v":0.742,"txt":"Pkd2"},{"p":"h","k":"sup","s":"none","t":90,"v":0.742,"txt":"−/−"},{"p":"h","k":"txt","s":"none","t":136,"v":0.795,"txt":"Δ 0.2"},{"p":"h","k":"txt","s":"none","t":175,"v":0.642,"txt":"30 s"},{"p":"h","k":"txt","s":"siNT","t":113.75,"v":0.642,"txt":"siNT"},{"p":"h","k":"txt","s":"siTMEM33-1","t":113.75,"v":0.558,"txt":"siTMEM33-1"},{"p":"h","k":"txt","s":"siTMEM33-2","t":113.75,"v":0.474,"txt":"siTMEM33-2"}
]
},
"concat": [
{"width": 195, "height": 230,
 "encoding": {"x": {"field": "t", "type": "quantitative", "scale": {"domain": [-154.5, 288.6], "nice": false, "zero": false}, "axis": null}, "y": {"field": "v", "type": "quantitative", "scale": {"domain": [-0.409, 1.682], "nice": false, "zero": false}, "axis": null}},
 "layer": [
  {"data": {"name": "traces"}, "transform": [{"filter": "datum.p === 'a' && datum.s === 'siNT'"}], "mark": {"type": "line", "color": "#555555", "strokeWidth": 1.8}},
  {"data": {"name": "traces"}, "transform": [{"filter": "datum.p === 'a' && datum.s === 'siTMEM33-1'"}], "mark": {"type": "line", "color": "#f04a4a", "strokeWidth": 1.8}},
  {"data": {"name": "traces"}, "transform": [{"filter": "datum.p === 'a' && datum.s === 'siTMEM33-2'"}], "mark": {"type": "line", "color": "#e040e0", "strokeWidth": 1.8}},
  {"data": {"name": "bars"}, "transform": [{"filter": "datum.p === 'a'"}], "mark": {"type": "rule", "color": "#000000"}, "encoding": {"x2": {"field": "t2"}, "y2": {"field": "v2"}, "strokeWidth": {"field": "k", "type": "nominal", "scale": {"domain": ["thick", "thin", "scale"], "range": [3.5, 1.2, 1.2]}, "legend": null}}},
  {"data": {"name": "labels"}, "transform": [{"filter": "datum.p === 'a' && datum.k === 'txt'"}], "mark": {"type": "text", "align": "left", "baseline": "alphabetic", "fontSize": 14}, "encoding": {"text": {"field": "txt"}, "color": {"field": "s", "type": "nominal", "scale": {"domain": ["none", "siNT", "mCherry", "siTMEM33-1", "siTMEM33-2", "TMEM33"], "range": ["#111111", "#111111", "#111111", "#ee2222", "#dd22dd", "#2e9e2e"]}, "legend": null}}},
  {"data": {"name": "labels"}, "transform": [{"filter": "datum.p === 'a' && datum.k === 'sup'"}], "mark": {"type": "text", "align": "left", "baseline": "alphabetic", "fontSize": 10, "dy": -5, "color": "#111111"}, "encoding": {"text": {"field": "txt"}}},
  {"data": {"name": "labels"}, "transform": [{"filter": "datum.p === 'a' && datum.k === 'ital'"}], "mark": {"type": "text", "align": "left", "baseline": "alphabetic", "fontSize": 14, "fontStyle": "italic", "color": "#111111"}, "encoding": {"text": {"field": "txt"}}},
  {"data": {"name": "labels"}, "transform": [{"filter": "datum.p === 'a' && datum.k === 'ctr'"}], "mark": {"type": "text", "align": "center", "baseline": "alphabetic", "fontSize": 14, "color": "#111111"}, "encoding": {"text": {"field": "txt"}}},
  {"data": {"name": "labels"}, "transform": [{"filter": "datum.p === 'a' && datum.k === 'letter'"}], "mark": {"type": "text", "align": "left", "baseline": "alphabetic", "fontSize": 18, "fontWeight": "bold", "color": "#000000"}, "encoding": {"text": {"field": "txt"}}},
  {"data": {"name": "labels"}, "transform": [{"filter": "datum.p === 'a' && datum.k === 'star'"}], "mark": {"type": "text", "align": "center", "baseline": "alphabetic", "fontSize": 14, "font": "DejaVu Sans", "color": "#111111"}, "encoding": {"text": {"field": "txt"}}}
 ]},
{"width": 195, "height": 230,
 "encoding": {"x": {"field": "t", "type": "quantitative", "scale": {"domain": [-97.7, 345.5], "nice": false, "zero": false}, "axis": null}, "y": {"field": "v", "type": "quantitative", "scale": {"domain": [-0.587, 2.48], "nice": false, "zero": false}, "axis": null}},
 "layer": [
  {"data": {"name": "traces"}, "transform": [{"filter": "datum.p === 'b' && datum.s === 'mCherry'"}], "mark": {"type": "line", "color": "#444444", "strokeWidth": 1.8}},
  {"data": {"name": "traces"}, "transform": [{"filter": "datum.p === 'b' && datum.s === 'TMEM33'"}], "mark": {"type": "line", "color": "#3fa03f", "strokeWidth": 1.8}},
  {"data": {"name": "bars"}, "transform": [{"filter": "datum.p === 'b'"}], "mark": {"type": "rule", "color": "#000000"}, "encoding": {"x2": {"field": "t2"}, "y2": {"field": "v2"}, "strokeWidth": {"field": "k", "type": "nominal", "scale": {"domain": ["thick", "thin", "scale"], "range": [3.5, 1.2, 1.2]}, "legend": null}}},
  {"data": {"name": "labels"}, "transform": [{"filter": "datum.p === 'b' && datum.k === 'txt'"}], "mark": {"type": "text", "align": "left", "baseline": "alphabetic", "fontSize": 14}, "encoding": {"text": {"field": "txt"}, "color": {"field": "s", "type": "nominal", "scale": {"domain": ["none", "siNT", "mCherry", "siTMEM33-1", "siTMEM33-2", "TMEM33"], "range": ["#111111", "#111111", "#111111", "#ee2222", "#dd22dd", "#2e9e2e"]}, "legend": null}}},
  {"data": {"name": "labels"}, "transform": [{"filter": "datum.p === 'b' && datum.k === 'sup'"}], "mark": {"type": "text", "align": "left", "baseline": "alphabetic", "fontSize": 10, "dy": -5, "color": "#111111"}, "encoding": {"text": {"field": "txt"}}},
  {"data": {"name": "labels"}, "transform": [{"filter": "datum.p === 'b' && datum.k === 'ital'"}], "mark": {"type": "text", "align": "left", "baseline": "alphabetic", "fontSize": 14, "fontStyle": "italic", "color": "#111111"}, "encoding": {"text": {"field": "txt"}}},
  {"data": {"name": "labels"}, "transform": [{"filter": "datum.p === 'b' && datum.k === 'ctr'"}], "mark": {"type": "text", "align": "center", "baseline": "alphabetic", "fontSize": 14, "color": "#111111"}, "encoding": {"text": {"field": "txt"}}},
  {"data": {"name": "labels"}, "transform": [{"filter": "datum.p === 'b' && datum.k === 'letter'"}], "mark": {"type": "text", "align": "left", "baseline": "alphabetic", "fontSize": 18, "fontWeight": "bold", "color": "#000000"}, "encoding": {"text": {"field": "txt"}}},
  {"data": {"name": "labels"}, "transform": [{"filter": "datum.p === 'b' && datum.k === 'star'"}], "mark": {"type": "text", "align": "center", "baseline": "alphabetic", "fontSize": 14, "font": "DejaVu Sans", "color": "#111111"}, "encoding": {"text": {"field": "txt"}}}
 ]},
{"width": 200, "height": 230,
 "encoding": {"x": {"field": "t", "type": "quantitative", "scale": {"domain": [-34.8, 834.8], "nice": false, "zero": false}, "axis": null}, "y": {"field": "v", "type": "quantitative", "scale": {"domain": [-1.676, 5.088], "nice": false, "zero": false}, "axis": null}},
 "layer": [
  {"data": {"name": "traces"}, "transform": [{"filter": "datum.p === 'c' && datum.s === 'TMEM33'"}], "mark": {"type": "line", "color": "#b0b0b0", "strokeWidth": 2}},
  {"data": {"name": "traces"}, "transform": [{"filter": "datum.p === 'c' && datum.s === 'control'"}], "mark": {"type": "line", "color": "#2a2a2a", "strokeWidth": 2.4}},
  {"data": {"name": "bars"}, "transform": [{"filter": "datum.p === 'c'"}], "mark": {"type": "rule", "color": "#000000"}, "encoding": {"x2": {"field": "t2"}, "y2": {"field": "v2"}, "strokeWidth": {"field": "k", "type": "nominal", "scale": {"domain": ["thick", "thin", "scale"], "range": [3.5, 1.2, 1.2]}, "legend": null}}},
  {"data": {"name": "labels"}, "transform": [{"filter": "datum.p === 'c' && datum.k === 'txt'"}], "mark": {"type": "text", "align": "left", "baseline": "alphabetic", "fontSize": 14, "color": "#111111"}, "encoding": {"text": {"field": "txt"}}},
  {"data": {"name": "labels"}, "transform": [{"filter": "datum.p === 'c' && datum.k === 'sup'"}], "mark": {"type": "text", "align": "left", "baseline": "alphabetic", "fontSize": 10, "dy": -5, "color": "#111111"}, "encoding": {"text": {"field": "txt"}}},
  {"data": {"name": "labels"}, "transform": [{"filter": "datum.p === 'c' && datum.k === 'ctr'"}], "mark": {"type": "text", "align": "center", "baseline": "alphabetic", "fontSize": 14, "color": "#111111"}, "encoding": {"text": {"field": "txt"}}},
  {"data": {"name": "labels"}, "transform": [{"filter": "datum.p === 'c' && datum.k === 'letter'"}], "mark": {"type": "text", "align": "left", "baseline": "alphabetic", "fontSize": 18, "fontWeight": "bold", "color": "#000000"}, "encoding": {"text": {"field": "txt"}}},
  {"data": {"name": "labels"}, "transform": [{"filter": "datum.p === 'c' && datum.k === 'star'"}], "mark": {"type": "text", "align": "center", "baseline": "alphabetic", "fontSize": 14, "font": "DejaVu Sans", "color": "#111111"}, "encoding": {"text": {"field": "txt"}}}
 ]},
{"width": 206, "height": 230,
 "encoding": {"x": {"field": "t", "type": "quantitative", "scale": {"domain": [-145.8, 712.5], "nice": false, "zero": false}, "axis": null}, "y": {"field": "v", "type": "quantitative", "scale": {"domain": [-1.522, 5.478], "nice": false, "zero": false}, "axis": null}},
 "layer": [
  {"data": {"name": "traces"}, "transform": [{"filter": "datum.p === 'd' && datum.s === 'CD8 DOX'"}], "mark": {"type": "line", "color": "#e030e0", "strokeWidth": 2}},
  {"data": {"name": "traces"}, "transform": [{"filter": "datum.p === 'd' && datum.s === 'CD8 control'"}], "mark": {"type": "line", "color": "#f03a4a", "strokeWidth": 2}},
  {"data": {"name": "bars"}, "transform": [{"filter": "datum.p === 'd'"}], "mark": {"type": "rule", "color": "#000000"}, "encoding": {"x2": {"field": "t2"}, "y2": {"field": "v2"}, "strokeWidth": {"field": "k", "type": "nominal", "scale": {"domain": ["thick", "thin", "scale"], "range": [3.5, 1.2, 1.2]}, "legend": null}}},
  {"data": {"name": "labels"}, "transform": [{"filter": "datum.p === 'd' && datum.k === 'txt'"}], "mark": {"type": "text", "align": "left", "baseline": "alphabetic", "fontSize": 14, "color": "#111111"}, "encoding": {"text": {"field": "txt"}}},
  {"data": {"name": "labels"}, "transform": [{"filter": "datum.p === 'd' && datum.k === 'sup'"}], "mark": {"type": "text", "align": "left", "baseline": "alphabetic", "fontSize": 10, "dy": -5, "color": "#111111"}, "encoding": {"text": {"field": "txt"}}},
  {"data": {"name": "labels"}, "transform": [{"filter": "datum.p === 'd' && datum.k === 'ctr'"}], "mark": {"type": "text", "align": "center", "baseline": "alphabetic", "fontSize": 14, "color": "#111111"}, "encoding": {"text": {"field": "txt"}}},
  {"data": {"name": "labels"}, "transform": [{"filter": "datum.p === 'd' && datum.k === 'letter'"}], "mark": {"type": "text", "align": "left", "baseline": "alphabetic", "fontSize": 18, "fontWeight": "bold", "color": "#000000"}, "encoding": {"text": {"field": "txt"}}}
 ]},
{"width": 195, "height": 236,
 "encoding": {"x": {"field": "t", "type": "quantitative", "scale": {"domain": [-141.7, 264.6], "nice": false, "zero": false}, "axis": null}, "y": {"field": "v", "type": "quantitative", "scale": {"domain": [-0.137, 2.347], "nice": false, "zero": false}, "axis": null}},
 "layer": [
  {"data": {"name": "traces"}, "transform": [{"filter": "datum.p === 'e' && datum.s === 'siNT'"}], "mark": {"type": "line", "color": "#333333", "strokeWidth": 1.8}},
  {"data": {"name": "traces"}, "transform": [{"filter": "datum.p === 'e' && datum.s === 'siTMEM33-1'"}], "mark": {"type": "line", "color": "#f03a3a", "strokeWidth": 1.8}},
  {"data": {"name": "traces"}, "transform": [{"filter": "datum.p === 'e' && datum.s === 'siTMEM33-2'"}], "mark": {"type": "line", "color": "#e030e0", "strokeWidth": 1.8}},
  {"data": {"name": "bars"}, "transform": [{"filter": "datum.p === 'e'"}], "mark": {"type": "rule", "color": "#000000"}, "encoding": {"x2": {"field": "t2"}, "y2": {"field": "v2"}, "strokeWidth": {"field": "k", "type": "nominal", "scale": {"domain": ["thick", "thin", "scale"], "range": [3.5, 1.2, 1.2]}, "legend": null}}},
  {"data": {"name": "labels"}, "transform": [{"filter": "datum.p === 'e' && datum.k === 'txt'"}], "mark": {"type": "text", "align": "left", "baseline": "alphabetic", "fontSize": 14}, "encoding": {"text": {"field": "txt"}, "color": {"field": "s", "type": "nominal", "scale": {"domain": ["none", "siNT", "mCherry", "siTMEM33-1", "siTMEM33-2", "TMEM33"], "range": ["#111111", "#111111", "#111111", "#ee2222", "#dd22dd", "#2e9e2e"]}, "legend": null}}},
  {"data": {"name": "labels"}, "transform": [{"filter": "datum.p === 'e' && datum.k === 'sup'"}], "mark": {"type": "text", "align": "left", "baseline": "alphabetic", "fontSize": 10, "dy": -5, "color": "#111111"}, "encoding": {"text": {"field": "txt"}}},
  {"data": {"name": "labels"}, "transform": [{"filter": "datum.p === 'e' && datum.k === 'ital'"}], "mark": {"type": "text", "align": "left", "baseline": "alphabetic", "fontSize": 14, "fontStyle": "italic", "color": "#111111"}, "encoding": {"text": {"field": "txt"}}},
  {"data": {"name": "labels"}, "transform": [{"filter": "datum.p === 'e' && datum.k === 'ctr'"}], "mark": {"type": "text", "align": "center", "baseline": "alphabetic", "fontSize": 14, "color": "#111111"}, "encoding": {"text": {"field": "txt"}}},
  {"data": {"name": "labels"}, "transform": [{"filter": "datum.p === 'e' && datum.k === 'letter'"}], "mark": {"type": "text", "align": "left", "baseline": "alphabetic", "fontSize": 18, "fontWeight": "bold", "color": "#000000"}, "encoding": {"text": {"field": "txt"}}}
 ]},
{"width": 195, "height": 236,
 "encoding": {"x": {"field": "t", "type": "quantitative", "scale": {"domain": [-97.7, 345.5], "nice": false, "zero": false}, "axis": null}, "y": {"field": "v", "type": "quantitative", "scale": {"domain": [-0.1, 1.715], "nice": false, "zero": false}, "axis": null}},
 "layer": [
  {"data": {"name": "traces"}, "transform": [{"filter": "datum.p === 'f' && datum.s === 'mCherry'"}], "mark": {"type": "line", "color": "#333333", "strokeWidth": 2}},
  {"data": {"name": "traces"}, "transform": [{"filter": "datum.p === 'f' && datum.s === 'TMEM33'"}], "mark": {"type": "line", "color": "#2f962f", "strokeWidth": 2}},
  {"data": {"name": "bars"}, "transform": [{"filter": "datum.p === 'f'"}], "mark": {"type": "rule", "color": "#000000"}, "encoding": {"x2": {"field": "t2"}, "y2": {"field": "v2"}, "strokeWidth": {"field": "k", "type": "nominal", "scale": {"domain": ["thick", "thin", "scale"], "range": [3.5, 1.2, 1.2]}, "legend": null}}},
  {"data": {"name": "labels"}, "transform": [{"filter": "datum.p === 'f' && datum.k === 'txt'"}], "mark": {"type": "text", "align": "left", "baseline": "alphabetic", "fontSize": 14}, "encoding": {"text": {"field": "txt"}, "color": {"field": "s", "type": "nominal", "scale": {"domain": ["none", "siNT", "mCherry", "siTMEM33-1", "siTMEM33-2", "TMEM33"], "range": ["#111111", "#111111", "#111111", "#ee2222", "#dd22dd", "#2e9e2e"]}, "legend": null}}},
  {"data": {"name": "labels"}, "transform": [{"filter": "datum.p === 'f' && datum.k === 'sup'"}], "mark": {"type": "text", "align": "left", "baseline": "alphabetic", "fontSize": 10, "dy": -5, "color": "#111111"}, "encoding": {"text": {"field": "txt"}}},
  {"data": {"name": "labels"}, "transform": [{"filter": "datum.p === 'f' && datum.k === 'ital'"}], "mark": {"type": "text", "align": "left", "baseline": "alphabetic", "fontSize": 14, "fontStyle": "italic", "color": "#111111"}, "encoding": {"text": {"field": "txt"}}},
  {"data": {"name": "labels"}, "transform": [{"filter": "datum.p === 'f' && datum.k === 'ctr'"}], "mark": {"type": "text", "align": "center", "baseline": "alphabetic", "fontSize": 14, "color": "#111111"}, "encoding": {"text": {"field": "txt"}}},
  {"data": {"name": "labels"}, "transform": [{"filter": "datum.p === 'f' && datum.k === 'letter'"}], "mark": {"type": "text", "align": "left", "baseline": "alphabetic", "fontSize": 18, "fontWeight": "bold", "color": "#000000"}, "encoding": {"text": {"field": "txt"}}}
 ]},
{"width": 200, "height": 236,
 "encoding": {"x": {"field": "t", "type": "quantitative", "scale": {"domain": [-52.2, 208.7], "nice": false, "zero": false}, "axis": null}, "y": {"field": "v", "type": "quantitative", "scale": {"domain": [-0.174, 3.553], "nice": false, "zero": false}, "axis": null}},
 "layer": [
  {"data": {"name": "traces"}, "transform": [{"filter": "datum.p === 'g' && datum.s === 'siNT'"}], "mark": {"type": "line", "color": "#111111", "strokeWidth": 2.2}},
  {"data": {"name": "traces"}, "transform": [{"filter": "datum.p === 'g' && datum.s === 'siTMEM33-1'"}], "mark": {"type": "line", "color": "#ee2222", "strokeWidth": 3}},
  {"data": {"name": "traces"}, "transform": [{"filter": "datum.p === 'g' && datum.s === 'siTMEM33-2'"}], "mark": {"type": "line", "color": "#e020e0", "strokeWidth": 2.6}},
  {"data": {"name": "bars"}, "transform": [{"filter": "datum.p === 'g'"}], "mark": {"type": "rule", "color": "#000000"}, "encoding": {"x2": {"field": "t2"}, "y2": {"field": "v2"}, "strokeWidth": {"field": "k", "type": "nominal", "scale": {"domain": ["thick", "thin", "scale"], "range": [3.5, 1.2, 1.2]}, "legend": null}}},
  {"data": {"name": "labels"}, "transform": [{"filter": "datum.p === 'g' && datum.k === 'txt'"}], "mark": {"type": "text", "align": "left", "baseline": "alphabetic", "fontSize": 14}, "encoding": {"text": {"field": "txt"}, "color": {"field": "s", "type": "nominal", "scale": {"domain": ["none", "siNT", "mCherry", "siTMEM33-1", "siTMEM33-2", "TMEM33"], "range": ["#111111", "#111111", "#111111", "#ee2222", "#dd22dd", "#2e9e2e"]}, "legend": null}}},
  {"data": {"name": "labels"}, "transform": [{"filter": "datum.p === 'g' && datum.k === 'sup'"}], "mark": {"type": "text", "align": "left", "baseline": "alphabetic", "fontSize": 10, "dy": -5, "color": "#111111"}, "encoding": {"text": {"field": "txt"}}},
  {"data": {"name": "labels"}, "transform": [{"filter": "datum.p === 'g' && datum.k === 'ital'"}], "mark": {"type": "text", "align": "left", "baseline": "alphabetic", "fontSize": 14, "fontStyle": "italic", "color": "#111111"}, "encoding": {"text": {"field": "txt"}}},
  {"data": {"name": "labels"}, "transform": [{"filter": "datum.p === 'g' && datum.k === 'ctr'"}], "mark": {"type": "text", "align": "center", "baseline": "alphabetic", "fontSize": 14, "color": "#111111"}, "encoding": {"text": {"field": "txt"}}},
  {"data": {"name": "labels"}, "transform": [{"filter": "datum.p === 'g' && datum.k === 'letter'"}], "mark": {"type": "text", "align": "left", "baseline": "alphabetic", "fontSize": 18, "fontWeight": "bold", "color": "#000000"}, "encoding": {"text": {"field": "txt"}}},
  {"data": {"name": "labels"}, "transform": [{"filter": "datum.p === 'g' && datum.k === 'star'"}], "mark": {"type": "text", "align": "center", "baseline": "alphabetic", "fontSize": 14, "font": "DejaVu Sans", "color": "#111111"}, "encoding": {"text": {"field": "txt"}}}
 ]},
{"width": 206, "height": 236,
 "encoding": {"x": {"field": "t", "type": "quantitative", "scale": {"domain": [-43.75, 213.75], "nice": false, "zero": false}, "axis": null}, "y": {"field": "v", "type": "quantitative", "scale": {"domain": [-0.068, 1.174], "nice": false, "zero": false}, "axis": null}},
 "layer": [
  {"data": {"name": "traces"}, "transform": [{"filter": "datum.p === 'h' && datum.s === 'siNT'"}], "mark": {"type": "line", "color": "#111111", "strokeWidth": 1.8}},
  {"data": {"name": "traces"}, "transform": [{"filter": "datum.p === 'h' && datum.s === 'siTMEM33-1'"}], "mark": {"type": "line", "color": "#ee2222", "strokeWidth": 1.8}},
  {"data": {"name": "traces"}, "transform": [{"filter": "datum.p === 'h' && datum.s === 'siTMEM33-2'"}], "mark": {"type": "line", "color": "#e020e0", "strokeWidth": 1.8}},
  {"data": {"name": "bars"}, "transform": [{"filter": "datum.p === 'h'"}], "mark": {"type": "rule", "color": "#000000"}, "encoding": {"x2": {"field": "t2"}, "y2": {"field": "v2"}, "strokeWidth": {"field": "k", "type": "nominal", "scale": {"domain": ["thick", "thin", "scale"], "range": [3.5, 1.2, 1.2]}, "legend": null}}},
  {"data": {"name": "labels"}, "transform": [{"filter": "datum.p === 'h' && datum.k === 'txt'"}], "mark": {"type": "text", "align": "left", "baseline": "alphabetic", "fontSize": 14}, "encoding": {"text": {"field": "txt"}, "color": {"field": "s", "type": "nominal", "scale": {"domain": ["none", "siNT", "mCherry", "siTMEM33-1", "siTMEM33-2", "TMEM33"], "range": ["#111111", "#111111", "#111111", "#ee2222", "#dd22dd", "#2e9e2e"]}, "legend": null}}},
  {"data": {"name": "labels"}, "transform": [{"filter": "datum.p === 'h' && datum.k === 'sup'"}], "mark": {"type": "text", "align": "left", "baseline": "alphabetic", "fontSize": 10, "dy": -5, "color": "#111111"}, "encoding": {"text": {"field": "txt"}}},
  {"data": {"name": "labels"}, "transform": [{"filter": "datum.p === 'h' && datum.k === 'ital'"}], "mark": {"type": "text", "align": "left", "baseline": "alphabetic", "fontSize": 14, "fontStyle": "italic", "color": "#111111"}, "encoding": {"text": {"field": "txt"}}},
  {"data": {"name": "labels"}, "transform": [{"filter": "datum.p === 'h' && datum.k === 'ctr'"}], "mark": {"type": "text", "align": "center", "baseline": "alphabetic", "fontSize": 14, "color": "#111111"}, "encoding": {"text": {"field": "txt"}}},
  {"data": {"name": "labels"}, "transform": [{"filter": "datum.p === 'h' && datum.k === 'letter'"}], "mark": {"type": "text", "align": "left", "baseline": "alphabetic", "fontSize": 18, "fontWeight": "bold", "color": "#000000"}, "encoding": {"text": {"field": "txt"}}}
 ]}
]
}
